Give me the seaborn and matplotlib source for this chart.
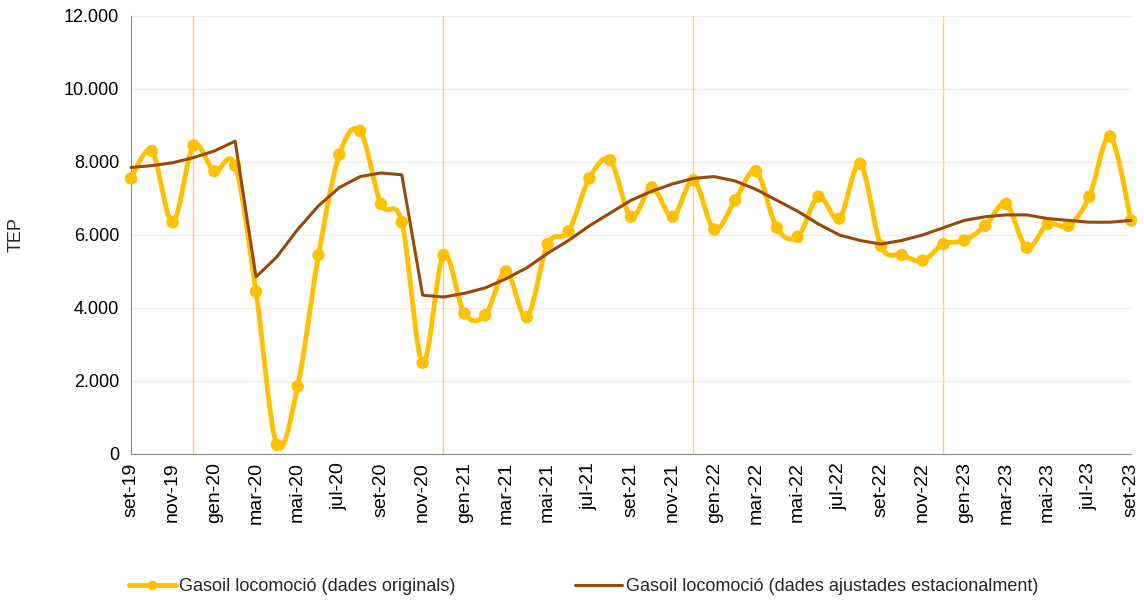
# Gasoil locomoció: dades originals vs dades ajustades estacionalment
import matplotlib
matplotlib.use('Agg')
import matplotlib.pyplot as plt
from matplotlib.lines import Line2D
from matplotlib.ticker import FuncFormatter
import numpy as np
import pandas as pd
import seaborn as sns

# dades (TEP), set-19 ... set-23
mesos = ['gen', 'feb', 'mar', 'abr', 'mai', 'jun', 'jul', 'ago', 'set', 'oct', 'nov', 'des']
any_inici = 2019
mes_inici = 8  # set
originals = [7550, 8300, 6350, 8450, 7750, 7900, 4450, 250, 1850, 5450, 8200, 8850,
             6850, 6350, 2500, 5450, 3850, 3800, 5000, 3750, 5750, 6100, 7550, 8050,
             6500, 7300, 6500, 7500, 6150, 6950, 7750, 6200, 5950, 7050, 6450, 7950,
             5700, 5450, 5300, 5750, 5850, 6250, 6850, 5650, 6300, 6250, 7050, 8700,
             6400]
ajustades = [7850, 7900, 7980, 8120, 8300, 8570, 4850, 5400, 6150, 6800, 7300, 7600,
             7700, 7650, 4350, 4300, 4400, 4550, 4800, 5100, 5500, 5850, 6250, 6600,
             6950, 7200, 7400, 7550, 7600, 7480, 7250, 6950, 6650, 6300, 6000, 5850,
             5750, 5850, 6000, 6200, 6400, 6500, 6550, 6550, 6450, 6400, 6350, 6350,
             6400]

etiquetes = []
for i in range(len(originals)):
    m = (i + mes_inici) % 12
    a = any_inici + (i + mes_inici) // 12
    etiquetes.append(f'{mesos[m]}-{str(a)[2:]}')

df = pd.DataFrame({'idx': np.arange(len(originals)), 'mes': etiquetes,
                   'originals': originals, 'ajustades': ajustades})

sns.set_style('white')
plt.rcParams['font.family'] = ['Liberation Sans', 'DejaVu Sans']

groc = '#FFC000'
marro = '#984807'


def suavitzat(x, y, n=20):
    # corba suau tipus Excel (Catmull-Rom), només per dibuixar la línia
    x = np.asarray(x, float)
    y = np.asarray(y, float)
    px = np.concatenate([[x[0]], x, [x[-1]]])
    py = np.concatenate([[y[0]], y, [y[-1]]])
    xs, ys = [], []
    t = np.linspace(0, 1, n, endpoint=False)
    for i in range(1, len(px) - 2):
        for p, out in ((px, xs), (py, ys)):
            p0, p1, p2, p3 = p[i - 1], p[i], p[i + 1], p[i + 2]
            c1 = p1 + (p2 - p0) / 6
            c2 = p2 - (p3 - p1) / 6
            out.extend((1 - t) ** 3 * p1 + 3 * (1 - t) ** 2 * t * c1 + 3 * (1 - t) * t ** 2 * c2 + t ** 3 * p2)
    xs.append(x[-1])
    ys.append(y[-1])
    return np.array(xs), np.array(ys)


fig = plt.figure(figsize=(11.44, 6.01), dpi=100)
ax = fig.add_axes([0.1145, 0.2446, 0.8741, 0.7288])

# línies verticals a desembre
for i in df.index[df['mes'].str.startswith('des')]:
    ax.axvline(df.loc[i, 'idx'], color='#FFCF66', lw=1, zorder=1)

sx, sy = suavitzat(df['idx'], df['originals'])
ax.plot(sx, sy, color=groc, lw=3.5, solid_capstyle='round', zorder=3, clip_on=False)
sns.scatterplot(data=df, x='idx', y='originals', color=groc, s=80, edgecolor='none',
                zorder=4, clip_on=False, ax=ax)
sns.lineplot(data=df, x='idx', y='ajustades', color=marro, lw=2.2, zorder=5, clip_on=False, ax=ax)

ax.set_xlim(0, len(df) - 1)
ax.set_ylim(0, 12000)
ax.set_yticks(np.arange(0, 12001, 2000))
ax.yaxis.set_major_formatter(FuncFormatter(lambda v, p: f'{int(v):,}'.replace(',', '.')))
ax.set_xticks(df['idx'])
ax.set_xticklabels([m if i % 2 == 0 else '' for i, m in enumerate(df['mes'])], rotation=90)
ax.grid(axis='y', color='#EEEEEE', lw=1)
ax.set_axisbelow(True)

for s in ['top', 'right']:
    ax.spines[s].set_visible(False)
for s in ['left', 'bottom']:
    ax.spines[s].set_color('#8C8C8C')
ax.tick_params(axis='both', labelsize=13, colors='#8C8C8C', labelcolor='black', direction='out', length=5, width=1)
ax.tick_params(axis='x', labelsize=14, pad=1)
ax.set_xlabel('')
ax.set_ylabel('TEP', fontsize=13, labelpad=28)

handles = [Line2D([0], [0], color=groc, lw=3.5, marker='o', markersize=6),
           Line2D([0], [0], color=marro, lw=2.2)]
fig.legend(handles, ['Gasoil locomoció (dades originals)', 'Gasoil locomoció (dades ajustades estacionalment)'],
           loc='center', bbox_to_anchor=(0.51, 0.024), ncol=2, frameon=False, fontsize=13,
           handlelength=2.6, handletextpad=0.2, columnspacing=6.6)

fig.savefig('out.png', dpi=100)
